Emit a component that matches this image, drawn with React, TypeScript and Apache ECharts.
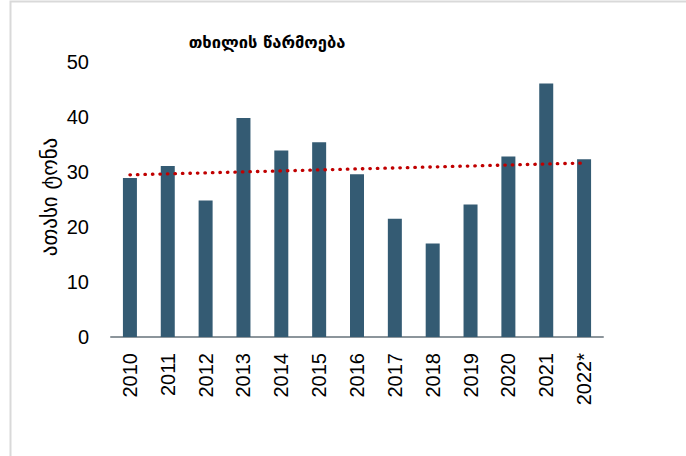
import React, { useEffect, useRef } from "react";
import * as echarts from "echarts";

const years = ["2010", "2011", "2012", "2013", "2014", "2015", "2016", "2017", "2018", "2019", "2020", "2021", "2022*"];
const production = [28.9, 31.1, 24.8, 39.8, 33.9, 35.4, 29.6, 21.5, 17.0, 24.1, 32.8, 46.1, 32.3];
const yTicks = [0, 10, 20, 30, 40, 50];
const titleText = "თხილის წარმოება";
const yAxisTitle = "ათასი ტონა";

function linearTrend(values: number[]): number[] {
  const n = values.length;
  const mx = (n - 1) / 2;
  const my = values.reduce((a, b) => a + b, 0) / n;
  let sxy = 0;
  let sxx = 0;
  values.forEach((v, i) => {
    sxy += (i - mx) * (v - my);
    sxx += (i - mx) * (i - mx);
  });
  const slope = sxy / sxx;
  return values.map((_, i) => +(my + slope * (i - mx)).toFixed(3));
}

export default function App() {
  const ref = useRef<HTMLDivElement>(null);
  useEffect(() => {
    document.body.style.margin = "0";
    if (!ref.current) return;
    const chart = echarts.init(ref.current, undefined, { renderer: "svg" });
    const trend = linearTrend(production);
    chart.setOption({
      animation: false,
      backgroundColor: "#ffffff",
      grid: { left: 111, right: 83, top: 62, bottom: 119, containLabel: false },
      graphic: [
        {
          type: "polyline",
          shape: { points: [[10.5, 470], [10.5, 1.5], [700, 1.5]] },
          style: { stroke: "#d9d9d9", lineWidth: 2, fill: null },
          silent: true,
        },
        {
          type: "text",
          x: 267,
          y: 42,
          style: {
            text: titleText,
            font: "bold 16.5px 'DejaVu Sans', 'Noto Sans', sans-serif",
            fill: "#000000",
            textAlign: "center",
            textVerticalAlign: "middle",
          },
        },
        {
          type: "text",
          x: 50,
          y: 197,
          rotation: Math.PI / 2,
          style: {
            text: yAxisTitle,
            font: "21px 'DejaVu Sans', 'Noto Sans', sans-serif",
            fill: "#000000",
            textAlign: "center",
            textVerticalAlign: "middle",
          },
        },
      ],
      xAxis: {
        type: "category",
        data: years,
        axisLine: { show: true, lineStyle: { color: "#8c959b", width: 2 } },
        axisTick: { show: false },
        axisLabel: {
          rotate: 90,
          interval: 0,
          margin: 16,
          fontSize: 20,
          fontFamily: "'Liberation Sans', Arial, sans-serif",
          color: "#000000",
        },
      },
      yAxis: {
        type: "value",
        min: yTicks[0],
        max: yTicks[yTicks.length - 1],
        interval: 10,
        axisLine: { show: false },
        axisTick: { show: false },
        splitLine: { show: false },
        axisLabel: {
          margin: 22,
          fontSize: 20,
          fontFamily: "'Liberation Sans', Arial, sans-serif",
          color: "#000000",
        },
      },
      series: [
        {
          type: "bar",
          data: production,
          barWidth: 14,
          itemStyle: { color: "#345b73" },
          z: 2,
        },
        {
          type: "line",
          data: trend,
          symbol: "none",
          lineStyle: { color: "#c00000", width: 3.3, type: [0.5, 7], cap: "round" },
          z: 3,
        },
      ],
    });
    return () => chart.dispose();
  }, []);
  return <div ref={ref} style={{ position: "absolute", left: 0, top: 0, width: 686, height: 456 }} />;
}
